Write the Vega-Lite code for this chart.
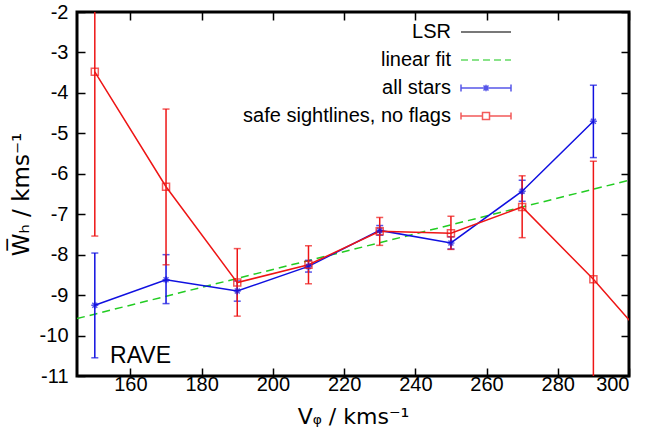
{
  "$schema": "https://vega.github.io/schema/vega-lite/v6.json",
  "width": 552,
  "height": 364,
  "autosize": "none",
  "padding": {"left": 77, "top": 12, "right": 39, "bottom": 65},
  "background": "white",
  "config": {
    "view": {"stroke": "black", "strokeWidth": 3},
    "font": "Liberation Sans",
    "axis": {"grid": false, "domain": false, "labelFont": "Liberation Sans", "titleFont": "DejaVu Sans", "labelColor": "black", "titleColor": "black", "tickColor": "black"},
    "legend": {"labelFont": "Liberation Sans"}
  },
  "datasets": {
    "pts": [
      {"series": "all stars", "x": 150, "y": -9.25, "lo": -10.55, "hi": -7.96},
      {"series": "all stars", "x": 170, "y": -8.62, "lo": -9.21, "hi": -8.0},
      {"series": "all stars", "x": 190, "y": -8.9, "lo": -9.15, "hi": -8.65},
      {"series": "all stars", "x": 210, "y": -8.29, "lo": -8.43, "hi": -8.14},
      {"series": "all stars", "x": 230, "y": -7.4, "lo": -7.52, "hi": -7.28},
      {"series": "all stars", "x": 250, "y": -7.71, "lo": -7.86, "hi": -7.56},
      {"series": "all stars", "x": 270, "y": -6.43, "lo": -6.68, "hi": -6.16},
      {"series": "all stars", "x": 290, "y": -4.7, "lo": -5.6, "hi": -3.81},
      {"series": "safe sightlines, no flags", "x": 150, "y": -3.48, "lo": -7.54, "hi": 0.58},
      {"series": "safe sightlines, no flags", "x": 170, "y": -6.32, "lo": -8.25, "hi": -4.4},
      {"series": "safe sightlines, no flags", "x": 190, "y": -8.69, "lo": -9.52, "hi": -7.85},
      {"series": "safe sightlines, no flags", "x": 210, "y": -8.25, "lo": -8.72, "hi": -7.78},
      {"series": "safe sightlines, no flags", "x": 230, "y": -7.42, "lo": -7.77, "hi": -7.08},
      {"series": "safe sightlines, no flags", "x": 250, "y": -7.47, "lo": -7.87, "hi": -7.05},
      {"series": "safe sightlines, no flags", "x": 270, "y": -6.82, "lo": -7.58, "hi": -6.05},
      {"series": "safe sightlines, no flags", "x": 290, "y": -8.61, "lo": -11.53, "hi": -5.69},
      {"series": "safe sightlines, no flags", "x": 310, "y": -10.61, "lo": -10.61, "hi": -10.61}
    ],
    "fit": [
      {"series": "linear fit", "x": 145, "y": -9.58},
      {"series": "linear fit", "x": 300, "y": -6.16}
    ],
    "label": [{"name": "RAVE", "x": 154.3, "y": -10.69}],
    "none": []
  },
  "resolve": {"axis": {"x": "independent", "y": "independent"}},
  "layer": [
    {
      "mark": {"type": "rule", "color": "black", "strokeWidth": 1.3},
      "encoding": {"y": {"datum": -7.26, "type": "quantitative", "scale": {"domain": [-11, -2], "nice": false}, "axis": null}}
    },
    {
      "data": {"name": "fit"},
      "mark": {"type": "line", "strokeDash": [8, 5], "strokeWidth": 1.5, "clip": true, "color": "#22cc22"},
      "encoding": {
        "x": {"field": "x", "type": "quantitative", "axis": null},
        "y": {"field": "y", "type": "quantitative", "axis": null}
      }
    },
    {
      "data": {"name": "pts"},
      "transform": [{"filter": "datum.series == 'all stars'"}],
      "mark": {"type": "errorbar", "ticks": {"size": 7}, "clip": true, "thickness": 1.5, "color": "#1010e0"},
      "encoding": {
        "x": {"field": "x", "type": "quantitative", "axis": null},
        "y": {"field": "lo", "type": "quantitative", "axis": null},
        "y2": {"field": "hi"}
      }
    },
    {
      "data": {"name": "pts"},
      "transform": [{"filter": "datum.series != 'all stars'"}],
      "mark": {"type": "errorbar", "ticks": {"size": 7}, "clip": true, "thickness": 1.5, "color": "#ee1515"},
      "encoding": {
        "x": {"field": "x", "type": "quantitative", "axis": null},
        "y": {"field": "lo", "type": "quantitative", "axis": null},
        "y2": {"field": "hi"}
      }
    },
    {
      "data": {"name": "pts"},
      "transform": [{"filter": "datum.series == 'all stars'"}],
      "mark": {"type": "line", "strokeWidth": 1.5, "clip": true, "color": "#1010e0"},
      "encoding": {
        "x": {"field": "x", "type": "quantitative", "scale": {"domain": [145, 300], "nice": false, "zero": false},
          "axis": {"values": [160, 180, 200, 220, 240, 260, 280, 300], "labelExpr": "toString(datum.value)", "tickSize": -8, "tickWidth": 1.5, "labelFontSize": 20, "labelPadding": 6, "title": "Vᵩ / kms⁻¹", "titleFontSize": 22, "titleFontWeight": "normal", "titlePadding": 12}},
        "y": {"field": "y", "type": "quantitative", "scale": {"domain": [-11, -2], "nice": false, "zero": false},
          "axis": {"values": [-11, -10, -9, -8, -7, -6, -5, -4, -3, -2], "labelExpr": "toString(datum.value)", "tickSize": -8, "tickWidth": 1.5, "labelFontSize": 20, "labelPadding": 17, "title": "W̅ₕ / kms⁻¹", "titleFontSize": 23, "titleFontWeight": "normal", "titlePadding": 6}}
      }
    },
    {
      "data": {"name": "pts"},
      "transform": [{"filter": "datum.series != 'all stars'"}],
      "mark": {"type": "line", "strokeWidth": 1.5, "clip": true, "color": "#ee1515"},
      "encoding": {
        "x": {"field": "x", "type": "quantitative", "axis": null},
        "y": {"field": "y", "type": "quantitative", "axis": null}
      }
    },
    {
      "data": {"name": "pts"},
      "transform": [{"filter": "datum.series == 'all stars'"}],
      "mark": {"type": "point", "shape": "M-1,0H1M0,-1V1M-0.7,-0.7L0.7,0.7M-0.7,0.7L0.7,-0.7", "size": 50, "filled": false, "strokeWidth": 1.5, "clip": true, "color": "#1010e0"},
      "encoding": {
        "x": {"field": "x", "type": "quantitative", "axis": null},
        "y": {"field": "y", "type": "quantitative", "axis": null}
      }
    },
    {
      "data": {"name": "pts"},
      "transform": [{"filter": "datum.series != 'all stars'"}],
      "mark": {"type": "point", "shape": "square", "size": 49, "filled": false, "strokeWidth": 1.5, "clip": true, "color": "#ee1515"},
      "encoding": {
        "x": {"field": "x", "type": "quantitative", "axis": null},
        "y": {"field": "y", "type": "quantitative", "axis": null}
      }
    },
    {
      "data": {"name": "label"},
      "mark": {"type": "text", "align": "left", "baseline": "alphabetic", "fontSize": 23, "font": "Liberation Sans", "color": "black"},
      "encoding": {
        "x": {"field": "x", "type": "quantitative", "axis": null},
        "y": {"field": "y", "type": "quantitative", "axis": null},
        "text": {"field": "name"}
      }
    },
    {
      "data": {"name": "none"},
      "mark": {"type": "point", "filled": false, "strokeWidth": 1.5},
      "encoding": {
        "x": {"field": "x", "type": "quantitative", "axis": {"orient": "top", "values": [160, 180, 200, 220, 240, 260, 280, 300], "tickSize": -8, "tickWidth": 1.5, "labels": false, "title": null}},
        "y": {"field": "y", "type": "quantitative", "axis": {"orient": "right", "values": [-11, -10, -9, -8, -7, -6, -5, -4, -3, -2], "tickSize": -8, "tickWidth": 1.5, "labels": false, "title": null}},
        "color": {"field": "series", "type": "nominal",
          "scale": {"domain": ["LSR", "linear fit", "all stars", "safe sightlines, no flags"], "range": ["black", "#22cc22", "#1010e0", "#ee1515"]}},
        "shape": {"field": "series", "type": "nominal",
          "scale": {"domain": ["LSR", "linear fit", "all stars", "safe sightlines, no flags"],
            "range": [
              "M-2.5,0H2.5",
              "M-2.5,0H-1.8M-1.4,0H-0.7M-0.3,0H0.4M0.8,0H1.5M1.9,0H2.5",
              "M-2.5,0H2.5M-2.5,-0.35V0.35M2.5,-0.35V0.35M-0.25,-0.25L0.25,0.25M-0.25,0.25L0.25,-0.25M0,-0.32V0.32",
              "M-2.5,0H-0.35M0.35,0H2.5M-2.5,-0.35V0.35M2.5,-0.35V0.35M-0.35,-0.35H0.35V0.35H-0.35Z"
            ]},
          "legend": {"title": null, "orient": "none", "legendX": 398, "legendY": 9, "padding": 0, "symbolSize": 400, "symbolStrokeWidth": 1.5, "symbolFillColor": "transparent", "labelFontSize": 20, "labelAlign": "right", "labelOffset": -46, "labelLimit": 400, "rowPadding": 7, "labelColor": "black"}}
      }
    }
  ]
}
